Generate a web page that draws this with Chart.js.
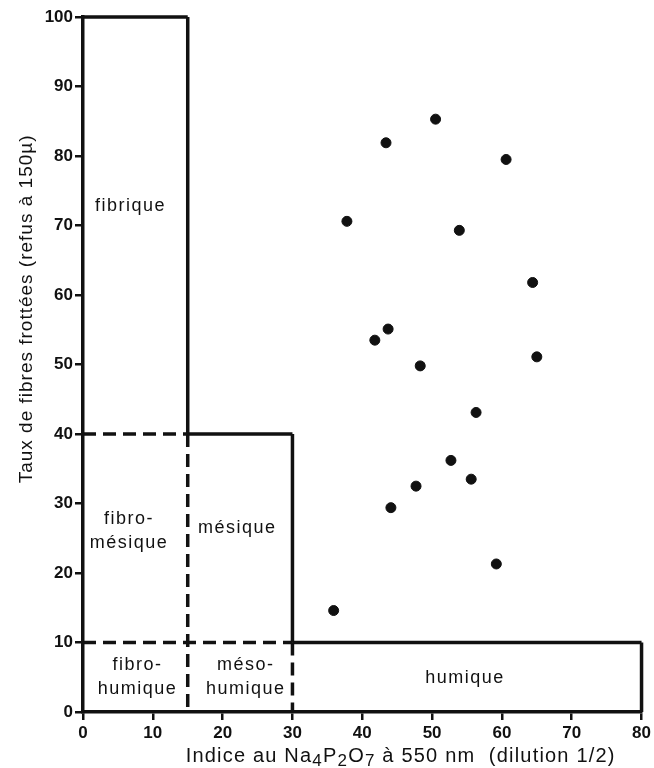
<!DOCTYPE html>
<html>
<head>
<meta charset="utf-8">
<script src="https://cdn.jsdelivr.net/npm/chart.js@4.4.1/dist/chart.umd.min.js"></script>
<style>
  html, body { margin: 0; padding: 0; background: #fff; }
  #wrap { width: 654px; height: 768px; }
</style>
</head>
<body>
<div id="wrap"><canvas id="peatChart"></canvas></div>
<script>
// tick labels
const xTicks = [0, 10, 20, 30, 40, 50, 60, 70, 80];
const yTicks = [0, 10, 20, 30, 40, 50, 60, 70, 80, 90, 100];

// samples: pyrophosphate index vs rubbed fibre content
const sampleX = [50.5, 43.4, 60.6, 37.8, 53.9, 64.4, 43.7, 41.8, 48.3, 65.0, 56.3, 52.7, 55.6, 47.7, 44.1, 59.2, 35.9];
const sampleY = [85.3, 81.9, 79.5, 70.6, 69.3, 61.8, 55.1, 53.5, 49.8, 51.1, 43.1, 36.2, 33.5, 32.5, 29.4, 21.3, 14.6];

// class limits [x1, y1, x2, y2]
const solidLimits = [
  [0, 100, 15, 100], [15, 100, 15, 40], [15, 40, 30, 40],
  [30, 40, 30, 10], [30, 10, 80, 10], [80, 10, 80, 0]
];
const dashedLimits = [
  [0, 40, 15, 40], [15, 40, 15, 0], [0, 10, 30, 10], [30, 10, 30, 0]
];

// class names and where they sit
const zoneNames = ['fibrique', 'fibro-\nmésique', 'mésique', 'fibro-\nhumique', 'méso-\nhumique', 'humique'];
const zoneX = [6.8, 6.6, 22.1, 7.8, 23.3, 54.7];
const zoneY = [72.8, 26.1, 26.4, 5.1, 5.1, 4.9];

const xTitle = [['Indice au Na', false], ['4', true], ['P', false], ['2', true], ['O', false], ['7', true], [' à 550 nm  (dilution 1/2)', false]];
const yTitle = 'Taux de fibres frottées (refus à 150µ)';

const INK = '#111';

const limitSets = [];
solidLimits.forEach(s => limitSets.push({ seg: s, dash: [] }));
dashedLimits.forEach(s => limitSets.push({ seg: s, dash: [13, 7] }));

const datasets = [{
  label: 'échantillons',
  data: sampleX.map((x, i) => ({ x: x, y: sampleY[i] })),
  backgroundColor: INK,
  borderColor: INK,
  pointRadius: 5,
  pointHoverRadius: 5
}];
limitSets.forEach(l => {
  datasets.push({
    data: [{ x: l.seg[0], y: l.seg[1] }, { x: l.seg[2], y: l.seg[3] }],
    showLine: true,
    borderColor: INK,
    borderWidth: 3.5,
    borderDash: l.dash,
    borderCapStyle: 'butt',
    pointRadius: 0,
    clip: false
  });
});

const zoneLabels = {
  id: 'zoneLabels',
  afterDatasetsDraw(chart) {
    const { ctx, scales: { x, y } } = chart;
    ctx.save();
    ctx.fillStyle = INK;
    ctx.textAlign = 'center';
    ctx.textBaseline = 'middle';
    ctx.font = '18px "Liberation Sans", Arial, sans-serif';
    ctx.letterSpacing = '1.5px';
    zoneNames.forEach((name, i) => {
      const lines = name.split('\n');
      const cx = x.getPixelForValue(zoneX[i]);
      const cy = y.getPixelForValue(zoneY[i]);
      lines.forEach((t, j) => {
        ctx.fillText(t, cx, cy + (j - (lines.length - 1) / 2) * 24);
      });
    });

    // y title, rotated
    ctx.font = '19px "Liberation Sans", Arial, sans-serif';
    ctx.letterSpacing = '1px';
    ctx.translate(27, y.getPixelForValue(58));
    ctx.rotate(-Math.PI / 2);
    ctx.fillText(yTitle, 0, 0);
    ctx.restore();

    // x title with subscripts
    ctx.save();
    ctx.fillStyle = INK;
    ctx.textBaseline = 'alphabetic';
    ctx.textAlign = 'left';
    ctx.letterSpacing = '1.2px';
    const big = '20px "Liberation Sans", Arial, sans-serif';
    const small = '17px "Liberation Sans", Arial, sans-serif';
    let w = 0;
    xTitle.forEach(p => { ctx.font = p[1] ? small : big; w += ctx.measureText(p[0]).width; });
    let tx = x.getPixelForValue(45.5) - w / 2;
    const base = 762;
    xTitle.forEach(p => {
      ctx.font = p[1] ? small : big;
      ctx.fillText(p[0], tx, p[1] ? base + 4 : base);
      tx += ctx.measureText(p[0]).width;
    });
    ctx.restore();
  }
};

new Chart(document.getElementById('peatChart'), {
  type: 'scatter',
  data: { datasets: datasets },
  options: {
    responsive: true,
    maintainAspectRatio: false,
    animation: false,
    layout: { padding: { top: 17, right: 9, left: 0, bottom: 0 } },
    plugins: {
      legend: { display: false },
      tooltip: { enabled: false }
    },
    scales: {
      x: {
        type: 'linear',
        min: 0,
        max: 80,
        afterBuildTicks: s => { s.ticks = xTicks.map(v => ({ value: v })); },
        afterFit: s => { s.height = 56; },
        border: { display: true, color: INK, width: 3.5 },
        grid: { drawOnChartArea: false, color: INK, lineWidth: 2.5, tickLength: 8 },
        ticks: {
          color: INK,
          padding: 3,
          font: { family: '"Liberation Sans", Arial, sans-serif', size: 17, weight: 'bold' }
        }
      },
      y: {
        type: 'linear',
        min: 0,
        max: 100,
        afterBuildTicks: s => { s.ticks = yTicks.map(v => ({ value: v })); },
        afterFit: s => { s.width = 83; },
        border: { display: true, color: INK, width: 3.5 },
        grid: { drawOnChartArea: false, color: INK, lineWidth: 2.5, tickLength: 8 },
        ticks: {
          color: INK,
          padding: 2,
          font: { family: '"Liberation Sans", Arial, sans-serif', size: 17, weight: 'bold' }
        }
      }
    }
  },
  plugins: [zoneLabels]
});
</script>
</body>
</html>
